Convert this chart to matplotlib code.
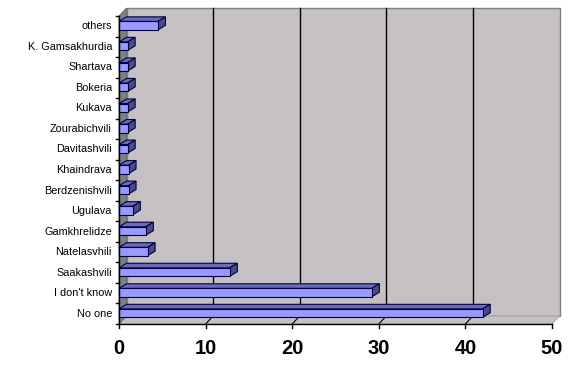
import matplotlib.pyplot as plt
from matplotlib.patches import Polygon

plt.rcParams['font.family'] = ['Liberation Sans', 'DejaVu Sans']

# data (bottom to top)
labels = ['No one', "I don't know", 'Saakashvili', 'Natelasvhili', 'Gamkhrelidze',
          'Ugulava', 'Berdzenishvili', 'Khaindrava', 'Davitashvili', 'Zourabichvili',
          'Kukava', 'Bokeria', 'Shartava', 'K. Gamsakhurdia', 'others']
values = [42.0, 29.2, 12.8, 3.3, 3.1, 1.6, 1.1, 1.1, 1.0, 1.0, 1.0, 1.0, 1.0, 1.0, 4.5]
xticks = [0, 10, 20, 30, 40, 50]

W, H = 575, 365
fig = plt.figure(figsize=(W / 100, H / 100), dpi=100)
ax = fig.add_axes([119 / W, 1 - 324 / H, 433 / W, 308 / H])
ax.set_xlim(0, 50)
ax.set_ylim(-0.5, len(labels) - 0.5)
ax.axis('off')

# pixel -> data conversion
px_x = 50 / 433
px_y = len(labels) / 308

wall = '#c4c0c4'
y0, y1 = -0.5, len(labels) - 0.5
wdx, wdy = 7.5 * px_x, 8 * px_y

# back wall
ax.add_patch(Polygon([(wdx, y0 + wdy), (50 + wdx, y0 + wdy), (50 + wdx, y1 + wdy), (wdx, y1 + wdy)],
                     closed=True, fc=wall, ec='#808080', lw=1, clip_on=False, zorder=0))
# floor
ax.add_patch(Polygon([(0, y0), (50, y0), (50 + wdx, y0 + wdy), (wdx, y0 + wdy)],
                     closed=True, fc=wall, ec='#a0a0a0', lw=0.6, clip_on=False, zorder=0))
# side wall
ax.add_patch(Polygon([(0, y0), (wdx, y0 + wdy), (wdx, y1 + wdy), (0, y1)],
                     closed=True, fc='#808080', ec='#606060', lw=0.6, clip_on=False, zorder=0))

# gridlines on back wall + floor
for t in xticks[1:-1]:
    ax.plot([t + wdx, t + wdx], [y0 + wdy, y1 + wdy], color='black', lw=1, clip_on=False, zorder=1)
    ax.plot([t, t + wdx], [y0, y0 + wdy], color='black', lw=0.8, clip_on=False, zorder=1)

# 3d bars
bh = 8.4 * px_y
bdx, bdy = 7.5 * px_x, 4.6 * px_y
for i, v in enumerate(values):
    yb = i - bh / 2 + 0.03
    yt = yb + bh
    ax.add_patch(Polygon([(0, yt), (v, yt), (v + bdx, yt + bdy), (bdx, yt + bdy)],
                         closed=True, fc='#6b6bb8', ec='#000040', lw=0.8, zorder=3, clip_on=False))
    ax.add_patch(Polygon([(v, yb), (v + bdx, yb + bdy), (v + bdx, yt + bdy), (v, yt)],
                         closed=True, fc='#4a4a8c', ec='#000040', lw=0.8, zorder=3, clip_on=False))
    ax.barh(i, v, height=bh, left=0, color='#9999ff', edgecolor='#000040', lw=0.8,
            zorder=4, clip_on=False).patches[0].set_y(yb)

# axes lines
ax.plot([0, 50], [y0, y0], color='black', lw=1, clip_on=False, zorder=5)
ax.plot([0, 0], [y0, y1], color='black', lw=1, clip_on=False, zorder=5)
for t in xticks:
    ax.plot([t, t], [y0, y0 - 4 * px_y], color='black', lw=1, clip_on=False, zorder=5)
    ax.text(t, y0 - 25 * px_y, str(t), ha='center', va='center', fontsize=14.5,
            fontweight='bold', clip_on=False)
for k in range(len(labels) + 1):
    ax.plot([-3 * px_x, 0], [y0 + k, y0 + k], color='black', lw=1, clip_on=False, zorder=5)
for i, lab in enumerate(labels):
    ax.text(-7 * px_x, i, lab, ha='right', va='center', fontsize=7.8, clip_on=False)

fig.savefig('out.png', dpi=100, facecolor='white')
